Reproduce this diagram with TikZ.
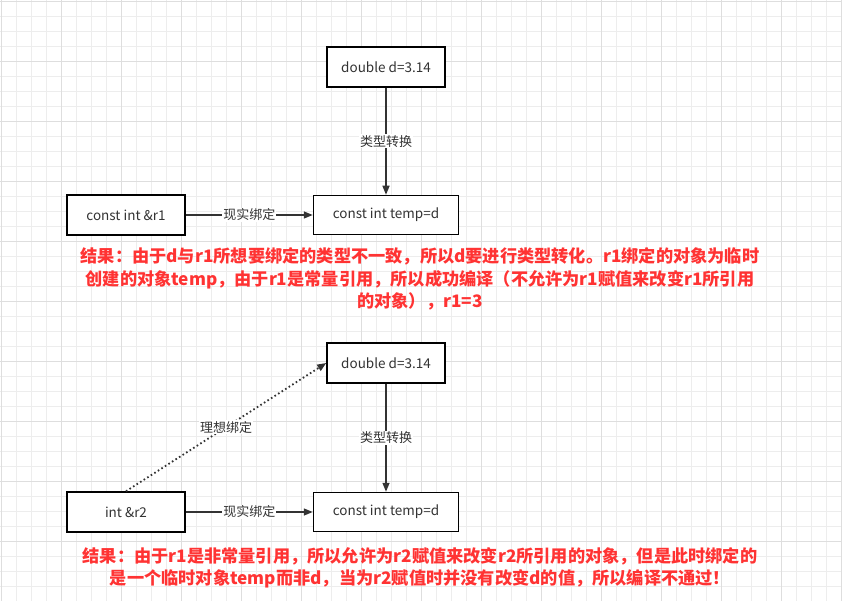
\documentclass[tikz,border=0pt]{standalone}
\usepackage{fontspec}
\setmainfont{Noto Sans CJK SC}
\newfontfamily\cjk{Noto Sans CJK SC}
\usetikzlibrary{arrows.meta,positioning}
\definecolor{gridminor}{HTML}{EDEDED}
\definecolor{gridmajor}{HTML}{DEDEDE}
\definecolor{linegray}{HTML}{333333}
\definecolor{notered}{HTML}{FF3333}

\begin{document}
\begin{tikzpicture}[x=1pt,y=-1pt,
 box/.style={draw=black, line width=1.5pt, fill=white, minimum width=118pt, minimum height=40pt,
   inner sep=0pt, text=linegray, font=\cjk\fontsize{13.5}{15}\selectfont},
 widebox/.style={box, minimum width=145pt, minimum height=39pt},
 conn/.style={draw=linegray, line width=1.4pt, -{Triangle[length=9pt,width=7pt]}},
 lbl/.style={fill=white, inner sep=1pt, text=linegray, font=\cjk\fontsize{13}{14}\selectfont},
 note/.style={align=center, text=notered, font=\cjk\bfseries\fontsize{17.2}{22.5}\selectfont}]
 \useasboundingbox (0,0) rectangle (842,601);
 \fill[white] (0,0) rectangle (842,601);
 % grid
 \foreach \g in {1,16,...,841} \draw[gridminor, line width=0.8pt] (\g,0) -- (\g,601);
 \foreach \g in {1,16,...,601} \draw[gridminor, line width=0.8pt] (0,\g) -- (842,\g);
 \foreach \g in {1,61,...,841} \draw[gridmajor, line width=0.8pt] (\g,0) -- (\g,601);
 \foreach \g in {1,61,...,601} \draw[gridmajor, line width=0.8pt] (0,\g) -- (842,\g);

 % upper case: const reference
 \node[box] (d1) at (386,67) {double d=3.14};
 \node[widebox] (tmp1) at (386,215) {const int temp=d};
 \node[box] (ref1) at (126,215) {const int \&r1};
 \draw[conn] (d1) -- node[lbl] {类型转换} (tmp1);
 \draw[conn] (ref1) -- node[lbl] {现实绑定} (tmp1);
 \node[note] (note1) at (420,279) {结果：由于d与r1所想要绑定的类型不一致，所以d要进行类型转化。r1绑定的对象为临时\\
   创建的对象temp，由于r1是常量引用，所以成功编译（不允许为r1赋值来改变r1所引用\\
   的对象），r1=3};

 % lower case: plain reference
 \node[box] (d2) at (386,363) {double d=3.14};
 \node[widebox] (tmp2) at (386,512) {const int temp=d};
 \node[box] (ref2) at (126,512) {int \&r2};
 \draw[conn] (d2) -- node[lbl] {类型转换} (tmp2);
 \draw[conn] (ref2) -- node[lbl] {现实绑定} (tmp2);
 \draw[conn, line width=1.8pt, dash pattern=on 1.6pt off 2.6pt] (ref2.north) -- node[lbl] {理想绑定} (d2.west);
 \node[note] (note2) at (420,568) {结果：由于r1是非常量引用，所以允许为r2赋值来改变r2所引用的对象，但是此时绑定的\\
   是一个临时对象temp而非d，当为r2赋值时并没有改变d的值，所以编译不通过！};
\end{tikzpicture}
\end{document}
